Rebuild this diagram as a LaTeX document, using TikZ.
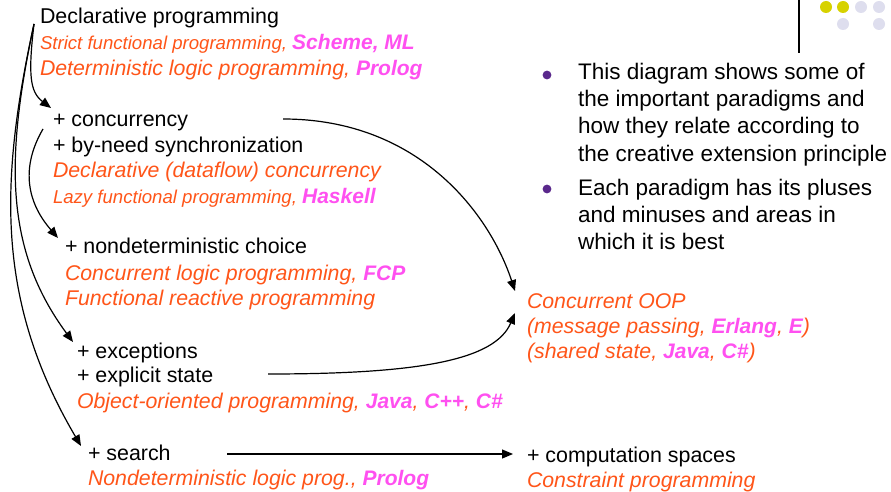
\documentclass[tikz,border=0pt]{standalone}
\usepackage{fontspec}
\setmainfont{Liberation Sans}
\usetikzlibrary{arrows.meta}

\definecolor{paradigmc}{RGB}{255,85,25}
\definecolor{langc}{RGB}{255,80,240}
\definecolor{bulletc}{RGB}{90,40,140}
\definecolor{dotyellow}{RGB}{215,210,0}
\definecolor{dotlav}{RGB}{222,222,238}

% language names: bold, magenta, full size
\newcommand\langname[1]{{\fontsize{21}{25}\selectfont\bfseries\color{langc}#1}}

\tikzset{
  txt/.style={anchor=base west, inner sep=0pt, outer sep=0pt,
              font=\fontsize{21.4}{25}\selectfont},
  para/.style={txt, text=paradigmc, font=\fontsize{21.3}{25}\selectfont\itshape},
  parasmall/.style={txt, text=paradigmc, font=\fontsize{18.6}{22}\selectfont\itshape},
  note/.style={anchor=base west, inner sep=0pt, font=\fontsize{22.5}{27}\selectfont},
  conn/.style={line width=1.2pt, -{Triangle[length=11pt,width=9pt]}},
  dot/.style={circle, inner sep=0pt, minimum size=12pt}
}

\begin{document}
\begin{tikzpicture}[x=1pt,y=-1pt]
\fill[white] (0,0) rectangle (891,492);
\useasboundingbox (0,0) rectangle (891,492);

% corner decoration
\draw[line width=1.5pt] (799,0) -- (799,53);
\node[dot, fill=dotyellow] (y1) at (826,7) {};
\node[dot, fill=dotyellow] (y2) at (843,7) {};
\node[dot, fill=dotlav] (l1) at (861,7) {};
\node[dot, fill=dotlav] (l2) at (879,7) {};
\node[dot, fill=dotlav] (l3) at (843,24) {};
\node[dot, fill=dotlav] (l4) at (879,24) {};

% paradigm tree
\node[txt] (decl) at (40,24) {Declarative programming};
\node[parasmall] (strict) at (40,50) {Strict functional programming, \langname{Scheme, ML}};
\node[para] (determ) at (40,76) {Deterministic logic programming, \langname{Prolog}};

\node[txt] (conc) at (53,127) {+ concurrency};
\node[txt] (byneed) at (53,152) {+ by-need synchronization};
\node[para] (dataflow) at (53,177) {Declarative (dataflow) concurrency};
\node[parasmall] (lazy) at (53,203) {Lazy functional programming, \langname{Haskell}};

\node[txt] (nondet) at (65,253) {+ nondeterministic choice};
\node[para] (clp) at (65,280) {Concurrent logic programming, \langname{FCP}};
\node[para] (frp) at (65,305) {Functional reactive programming};

\node[txt] (exc) at (77,358) {+ exceptions};
\node[txt] (state) at (77,382) {+ explicit state};
\node[para] (oop) at (77,408) {Object-oriented programming, \langname{Java}, \langname{C++}, \langname{C\#}};

\node[txt] (search) at (88,460) {+ search};
\node[para] (nlp) at (88,485) {Nondeterministic logic prog., \langname{Prolog}};

\node[para] (coop) at (527,308) {Concurrent OOP};
\node[para] (msg) at (527,333) {(message passing, \langname{Erlang}, \langname{E})};
\node[para] (shared) at (527,358) {(shared state, \langname{Java}, \langname{C\#})};

\node[txt] (spaces) at (527,462) {+ computation spaces};
\node[para] (constr) at (527,487) {Constraint programming};

% bullet notes
\fill[bulletc] (547,75) circle (4.4pt);
\node[note] (n1a) at (578,80) {This diagram shows some of};
\node[note] (n1b) at (578,107) {the important paradigms and};
\node[note] (n1c) at (578,134) {how they relate according to};
\node[note] (n1d) at (578,161) {the creative extension principle};
\fill[bulletc] (547,189) circle (4.4pt);
\node[note] (n2a) at (578,195) {Each paradigm has its pluses};
\node[note] (n2b) at (578,222) {and minuses and areas in};
\node[note] (n2c) at (578,249) {which it is best};

% connector end points
\coordinate (root) at ([xshift=-6pt]decl.base west);
\coordinate (concin) at ([xshift=-2pt,yshift=19pt]conc.base west);
\coordinate (concout) at ([xshift=-10pt,yshift=-2pt]conc.base west);
\coordinate (nondetin) at ([xshift=-7pt,yshift=15pt]nondet.base west);
\coordinate (excin) at ([xshift=-4pt,yshift=16pt]exc.base west);
\coordinate (searchin) at ([xshift=-7pt,yshift=14pt]search.base west);
\coordinate (concright) at (283,119);
\coordinate (stateright) at (268,374);
\coordinate (searchright) at (227,454);
\coordinate (coopin1) at ([xshift=-12pt,yshift=17pt]coop.base west);
\coordinate (coopin2) at ([xshift=-12pt,yshift=-5pt]coop.base west);
\coordinate (spacesin) at ([xshift=-14pt,yshift=8pt]spaces.base west);

% connectors
\draw[conn] (root) .. controls (28,75) and (30,92) .. (concin);
\draw[conn] (concout) .. controls (22,165) and (25,200) .. (nondetin);
\draw[conn] (root) .. controls (5,160) and (5,250) .. (excin);
\draw[conn] (root) .. controls (0,180) and (-5,300) .. (searchin);
\draw[conn] (concright) .. controls (420,119) and (490,215) .. (coopin1);
\draw[conn] (stateright) .. controls (420,374) and (495,360) .. (coopin2);
\draw[conn] (searchright) -- (spacesin);
\end{tikzpicture}
\end{document}
